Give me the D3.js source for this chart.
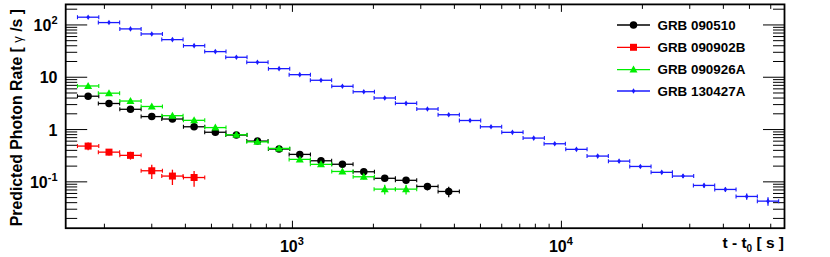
<!DOCTYPE html>
<html><head><meta charset="utf-8">
<script src="https://cdn.jsdelivr.net/npm/d3@7"></script>
<style>body{margin:0;background:#fff}svg{display:block}text{font-family:"Liberation Sans",Arial,sans-serif;font-weight:bold}</style>
</head><body><svg id="c" width="830" height="257"></svg>
<script>
// ---- data ----
const binCenters = [174,208,250,300,358,431,517,619,741,892,1065,1277,1534,1842,2204,2645,3176,3811,4574,5474,6574,7889,9443,11370,13640,16380,19660,23600,28320,33900,40700,48840,58610];
const binHalfDex = 0.0396;
const names = ["GRB 090510","GRB 090902B","GRB 090926A","GRB 130427A"];
const rate090510 = [4.34,3.15,2.44,1.77,1.59,1.13,0.888,0.785,0.602,0.424,0.335,0.253,0.217,0.156,0.117,0.107,0.0817,0.0655];
const err090510  = [0.1,0.08,0.06,0.05,0.045,0.04,0.035,0.03,0.025,0.02,0.018,0.015,0.014,0.012,0.012,0.012,0.013,0.015];
const rate090902B = [0.483,0.370,0.321,0.163,0.129,0.121];
const err090902B  = [0.08,0.05,0.055,0.05,0.042,0.04];
const rate090926A = [6.81,4.96,3.51,2.76,1.84,1.50,1.09,0.795,0.582,0.436,0.269,0.216,0.158,0.125,0.0726,0.0726];
const err090926A  = [0.15,0.12,0.09,0.08,0.06,0.05,0.04,0.035,0.03,0.025,0.02,0.018,0.015,0.014,0.015,0.015];
const rate130427A = [140.6,111,84,67.3,52.4,40.2,30.9,24.1,19.3,14.6,11.2,8.75,6.71,5.29,4.01,3.17,2.47,1.92,1.49,1.13,0.884,0.687,0.535,0.418,0.311,0.249,0.197,0.152,0.129,0.0855,0.0716,0.0526,0.0428];
const err130427A  = [3,2.5,2,1.6,1.3,1,0.8,0.6,0.5,0.4,0.32,0.26,0.21,0.17,0.14,0.11,0.09,0.075,0.06,0.05,0.04,0.033,0.028,0.023,0.019,0.016,0.013,0.011,0.01,0.008,0.007,0.007,0.008];
const xDomain = [143.6, 67500];
const yDomain = [0.013, 247];
const yTickVals = [0.1, 1, 10, 100];
const yTickLabels = [["10","-1"],["1",""],["10",""],["10","2"]];
const xTickVals = [1000, 10000];
const xTickLabels = [["10","3"],["10","4"]];

// ---- layout ----
const L=65.7, R=784.5, T=4.4, B=228.2;
const svg = d3.select("#c");
const x = d3.scaleLog().domain(xDomain).range([L,R]);
const y = d3.scaleLog().domain(yDomain).range([B,T]);

const series = [
  {name:names[0], rate:rate090510, err:err090510, color:"#000000", marker:"circle"},
  {name:names[1], rate:rate090902B, err:err090902B, color:"#ff0000", marker:"square"},
  {name:names[2], rate:rate090926A, err:err090926A, color:"#00ee00", marker:"triangle"},
  {name:names[3], rate:rate130427A, err:err130427A, color:"#1a1aff", marker:"diamond"}
];

function markerPath(type){
  if(type==="circle") return d3.symbol(d3.symbolCircle, 44)();
  if(type==="square") return "M-3.5,-3.5H3.5V3.5H-3.5Z";
  if(type==="triangle") return "M0,-4L4,3L-4,3Z";
  return "M0,-2.8L1.8,0L0,2.8L-1.8,0Z";
}

// ticks
const axisG = svg.append("g").attr("stroke","#000").attr("stroke-width",1);
const xMinor = [], yMinor = [];
for(let e=2;e<=4;e++) for(let m=1;m<=9;m++){ const v=m*Math.pow(10,e); if(v>xDomain[0]&&v<xDomain[1]) xMinor.push(v); }
for(let e=-2;e<=2;e++) for(let m=1;m<=9;m++){ const v=m*Math.pow(10,e); if(v>yDomain[0]&&v<yDomain[1]) yMinor.push(v); }
xMinor.forEach(v=>{
  const major = xTickVals.includes(v);
  const len = major?7.5:4.5;
  axisG.append("line").attr("x1",x(v)).attr("x2",x(v)).attr("y1",B).attr("y2",B-len);
  axisG.append("line").attr("x1",x(v)).attr("x2",x(v)).attr("y1",T).attr("y2",T+len);
});
yMinor.forEach(v=>{
  const major = yTickVals.includes(v);
  const len = major?21.5:11.5;
  axisG.append("line").attr("y1",y(v)).attr("y2",y(v)).attr("x1",L).attr("x2",L+len);
  axisG.append("line").attr("y1",y(v)).attr("y2",y(v)).attr("x1",R).attr("x2",R-len);
});
// frame
svg.append("rect").attr("x",L).attr("y",T).attr("width",R-L).attr("height",B-T)
  .attr("fill","none").attr("stroke","#000").attr("stroke-width",1.8);

// tick labels
yTickVals.forEach((v,i)=>{
  const t = svg.append("text").attr("x",57.5).attr("y",y(v)+6).attr("text-anchor","end").attr("font-size",16);
  t.append("tspan").text(yTickLabels[i][0]);
  if(yTickLabels[i][1]) t.append("tspan").attr("font-size",11).attr("dy",-7).text(yTickLabels[i][1]);
});
xTickVals.forEach((v,i)=>{
  const t = svg.append("text").attr("x",x(v)-12.5).attr("y",252).attr("font-size",16);
  t.append("tspan").text(xTickLabels[i][0]);
  t.append("tspan").attr("font-size",11).attr("dy",-7).text(xTickLabels[i][1]);
});

// axis titles
const xt = svg.append("text").attr("x",784).attr("y",248).attr("text-anchor","end").attr("font-size",15.5);
xt.append("tspan").text("t - t");
xt.append("tspan").attr("font-size",10).attr("dy",4).text("0");
xt.append("tspan").attr("dy",-4).text(" [ s ]");
const yt = svg.append("text").attr("transform","translate(21.5,9) rotate(-90)").attr("text-anchor","end").attr("font-size",15.8);
yt.append("tspan").text("Predicted Photon Rate [ ");
yt.append("tspan").attr("font-weight","normal").attr("font-size",13).text("γ");
yt.append("tspan").text(" /s ]");

// data
series.forEach(s=>{
  const g = svg.append("g").attr("stroke",s.color).attr("fill",s.color);
  s.rate.forEach((r,i)=>{
    const c = binCenters[i];
    const x0 = x(c/Math.pow(10,binHalfDex)), x1 = x(c*Math.pow(10,binHalfDex)), xc = x(c), yc = y(r);
    const yl = y(Math.max(r-s.err[i], yDomain[0])), yh = y(r+s.err[i]);
    g.append("line").attr("x1",x0).attr("x2",x1).attr("y1",yc).attr("y2",yc).attr("stroke-width",1.3);
    g.append("line").attr("x1",x0).attr("x2",x0).attr("y1",yc-2).attr("y2",yc+2).attr("stroke-width",1.1);
    g.append("line").attr("x1",x1).attr("x2",x1).attr("y1",yc-2).attr("y2",yc+2).attr("stroke-width",1.1);
    g.append("line").attr("x1",xc).attr("x2",xc).attr("y1",yl).attr("y2",yh).attr("stroke-width",1.3);
    if(yh-yl>6){
      g.append("line").attr("x1",xc-2).attr("x2",xc+2).attr("y1",yl).attr("y2",yl).attr("stroke-width",1.1);
      g.append("line").attr("x1",xc-2).attr("x2",xc+2).attr("y1",yh).attr("y2",yh).attr("stroke-width",1.1);
    }
    g.append("path").attr("d",markerPath(s.marker)).attr("transform",`translate(${xc},${yc})`).attr("stroke","none");
  });
});

// legend
const legY = [25,47.3,69.6,91];
series.forEach((s,i)=>{
  const g = svg.append("g");
  g.append("line").attr("x1",617).attr("x2",650).attr("y1",legY[i]).attr("y2",legY[i]).attr("stroke",s.color).attr("stroke-width",1.3);
  g.append("path").attr("d",markerPath(s.marker)).attr("transform",`translate(633.5,${legY[i]})`).attr("fill",s.color);
  g.append("text").attr("x",657.5).attr("y",legY[i]+4.7).attr("font-size",13.4).text(s.name);
});
</script></body></html>
